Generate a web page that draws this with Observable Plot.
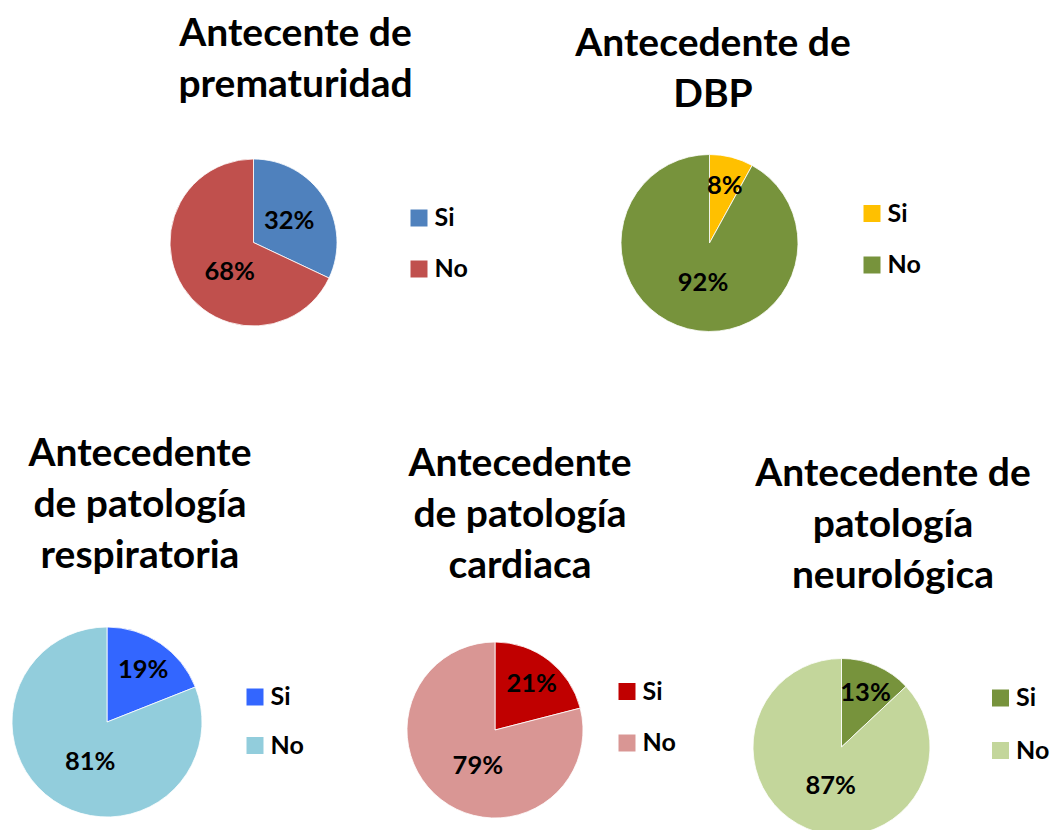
<!DOCTYPE html>
<html><head><meta charset="utf-8">
<script src="https://cdn.jsdelivr.net/npm/d3@7"></script>
<script src="https://cdn.jsdelivr.net/npm/@observablehq/plot@0.6"></script>
<style>html,body{margin:0;padding:0;background:#fff;overflow:hidden}</style>
</head><body><div id="chart"></div>
<script>
// ---- data ----
const categories = ["Si", "No"];
const chartTitles = [
  ["Antecente de", "prematuridad"],
  ["Antecedente de", "DBP"],
  ["Antecedente", "de patología", "respiratoria"],
  ["Antecedente", "de patología", "cardiaca"],
  ["Antecedente de", "patología", "neurológica"]
];
const siValues = [32, 8, 19, 21, 13];
const noValues = [68, 92, 81, 79, 87];
const siColors = ["#4F81BD", "#FFC000", "#3366FF", "#C00000", "#77933C"];
const noColors = ["#C0504D", "#77933C", "#92CDDC", "#D99694", "#C3D69B"];

// ---- layout (positions only) ----
const layout = [
  {cx: 253.5, cy: 242.5, r: 83.5, tx: 295,   ty: 45,  lx: 418.5, ly: 217.5, lgap: 51},
  {cx: 709.5, cy: 243,   r: 88.5, tx: 712.5, ty: 55,  lx: 871.5, ly: 213,   lgap: 51.5},
  {cx: 107,   cy: 722,   r: 95,   tx: 139.5, ty: 465, lx: 254.5, ly: 696.5, lgap: 48.5},
  {cx: 495,   cy: 730,   r: 88,   tx: 519.5, ty: 475, lx: 626.5, ly: 691,   lgap: 51.5},
  {cx: 841.5, cy: 747,   r: 88.5, tx: 892.5, ty: 485, lx: 1000,  ly: 697.5, lgap: 52.5}
];
const W = 1053, H = 830;
const titleSize = 39, titleLead = 51, labelSize = 25.5, legendSize = 25, swatch = 17;
const font = "Lato, 'Open Sans', sans-serif";

// ---- derived rows ----
const slices = [];
layout.forEach((L, i) => {
  const vals = [siValues[i], noValues[i]];
  const cols = [siColors[i], noColors[i]];
  const total = d3.sum(vals);
  const arcs = d3.pie().sort(null)(vals);
  categories.forEach((c, j) => {
    const a = arcs[j];
    const share = vals[j] / total;
    let mid = (a.startAngle + a.endAngle) / 2;
    let frac;
    if (share < 0.25) frac = 0.67;
    else if (share < 0.5) frac = 0.5;
    else { frac = 0.45; mid = mid - 0.3 * (mid - Math.PI); }
    slices.push({
      panel: i, category: c, value: vals[j], color: cols[j],
      startAngle: a.startAngle, endAngle: a.endAngle,
      labelX: L.cx + frac * L.r * Math.sin(mid),
      labelY: L.cy - frac * L.r * Math.cos(mid),
      label: vals[j] + "%",
      legX: L.lx, legY: L.ly + j * L.lgap
    });
  });
});
const titleRows = chartTitles.flatMap((lines, i) =>
  lines.map((t, k) => ({text: t, x: layout[i].tx, y: layout[i].ty + k * titleLead - 0.32 * titleSize}))
);

function pieMark(index, scales) {
  const sx = scales && scales.x ? scales.x : v => v;
  const sy = scales && scales.y ? scales.y : v => v;
  const g = d3.create("svg:g");
  for (const d of slices) {
    const L = layout[d.panel];
    g.append("path")
      .attr("transform", `translate(${sx(L.cx)},${sy(L.cy)})`)
      .attr("d", d3.arc().innerRadius(0).outerRadius(L.r)({startAngle: d.startAngle, endAngle: d.endAngle}))
      .attr("fill", d.color)
      .attr("stroke", "#ffffff")
      .attr("stroke-width", 0.8);
  }
  return g.node();
}

const chart = Plot.plot({
  width: W, height: H,
  margin: 0,
  x: {domain: [0, W], range: [0, W], axis: null},
  y: {domain: [0, H], range: [0, H], axis: null},
  color: {type: "identity"},
  style: {fontFamily: font, background: "#fff", overflow: "hidden"},
  marks: [
    pieMark,
    Plot.text(slices, {x: "labelX", y: "labelY", text: "label", fontSize: labelSize, fontWeight: "bold", fill: "#000", fontFamily: font}),
    Plot.dot(slices, {x: "legX", y: "legY", symbol: "square", r: swatch / Math.sqrt(Math.PI), fill: "color", stroke: null}),
    Plot.text(slices, {x: d => d.legX + swatch / 2 + 7, y: "legY", text: "category", textAnchor: "start", fontSize: legendSize, fontWeight: "bold", fill: "#000", fontFamily: font}),
    Plot.text(titleRows, {x: "x", y: "y", text: "text", fontSize: titleSize, fontWeight: "bold", fill: "#000", fontFamily: font})
  ]
});
document.getElementById("chart").appendChild(chart);
</script>
</body></html>
